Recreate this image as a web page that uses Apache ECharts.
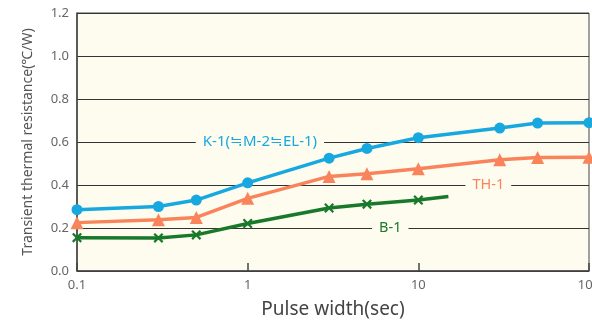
<!DOCTYPE html>
<html><head><meta charset="utf-8">
<script src="https://cdn.jsdelivr.net/npm/echarts@6/dist/echarts.min.js"></script>
<style>html,body{margin:0;padding:0;background:#fff}#c{width:592px;height:322px}</style>
</head><body><div id="c"></div>
<script>
const pulseMain = [0.1, 0.3, 0.5, 1, 3, 5, 10, 30, 50, 100];
const k1 = [0.285, 0.300, 0.330, 0.410, 0.525, 0.570, 0.620, 0.665, 0.688, 0.690];
const th1 = [0.225, 0.238, 0.249, 0.338, 0.440, 0.452, 0.476, 0.517, 0.528, 0.529];
const pulseB = [0.1, 0.3, 0.5, 1, 3, 5, 10, 15];
const b1 = [0.155, 0.154, 0.168, 0.221, 0.293, 0.311, 0.330, 0.347];
const yTicks = [0.0, 0.2, 0.4, 0.6, 0.8, 1.0, 1.2];
const seriesNames = ['K-1(≒M-2≒EL-1)', 'TH-1', 'B-1'];
const labelPos = [[1.18, 0.6], [25.7, 0.4], [6.85, 0.2]];

const cBlue = '#18a8e0', cOrange = '#f9845b', cGreen = '#18792b';
const bg = '#fefcee';
const crossPath = 'path://M0,1.6L1.6,0L5,3.4L8.4,0L10,1.6L6.6,5L10,8.4L8.4,10L5,6.6L1.6,10L0,8.4L3.4,5Z';

function pairs(xs, ys) { return xs.map((x, i) => [x, ys[i]]); }
const bData = pairs(pulseB, b1).map((p, i) => i === pulseB.length - 1 ? {value: p, symbol: 'none'} : p);

function lbl(i, color) {
  return {
    symbol: 'rect', symbolSize: 0, silent: true,
    data: [{coord: labelPos[i]}],
    label: {show: true, position: 'inside', formatter: seriesNames[i], color: color,
      fontSize: i === 0 ? 15 : 14.5, fontFamily: 'Noto Sans, Noto Sans CJK JP, sans-serif', backgroundColor: bg,
      padding: [0, 7, 0, 7]}
  };
}

const chart = echarts.init(document.getElementById('c'));
chart.setOption({
  animation: false,
  grid: {left: 77, right: 3, top: 13, bottom: 51, outerBoundsMode: 'none', containLabel: false,
    show: true, backgroundColor: bg, borderColor: '#444', borderWidth: 1},
  xAxis: {
    type: 'log', logBase: 10, min: 0.1, max: 100,
    name: 'Pulse width(sec)', nameLocation: 'middle', nameGap: 29,
    nameTextStyle: {fontSize: 19, color: '#444', fontFamily: 'Noto Sans, sans-serif'},
    axisLine: {lineStyle: {color: '#444', width: 1.5}},
    axisTick: {inside: true, length: 8, lineStyle: {color: '#444', width: 1.5}},
    axisLabel: {color: '#666', fontSize: 13, margin: 8, fontFamily: 'Noto Sans, sans-serif'},
    splitLine: {show: false}, minorTick: {show: false}
  },
  yAxis: {
    type: 'value', min: 0, max: 1.2, interval: 0.2,
    name: 'Transient thermal resistance(℃/W)', nameLocation: 'middle', nameGap: 42,
    nameTextStyle: {fontSize: 14, color: '#555', fontFamily: 'Noto Sans, sans-serif'},
    axisLine: {show: true, lineStyle: {color: '#444', width: 1.5}},
    axisTick: {show: false},
    axisLabel: {color: '#666', fontSize: 13, margin: 8, fontFamily: 'Noto Sans, sans-serif',
      formatter: v => yTicks.find(t => Math.abs(t - v) < 1e-9).toFixed(1)},
    splitLine: {lineStyle: {color: '#333', width: 1}}
  },
  series: [
    {name: seriesNames[0], type: 'line', data: pairs(pulseMain, k1), symbol: 'circle', symbolSize: 11,
     lineStyle: {color: cBlue, width: 3.5}, itemStyle: {color: cBlue}, markPoint: lbl(0, cBlue), z: 4},
    {name: seriesNames[1], type: 'line', data: pairs(pulseMain, th1), symbol: 'triangle', symbolSize: 13,
     lineStyle: {color: cOrange, width: 3.5}, itemStyle: {color: cOrange}, markPoint: lbl(1, cOrange), z: 3},
    {name: seriesNames[2], type: 'line', data: bData, symbol: crossPath, symbolSize: 10,
     lineStyle: {color: cGreen, width: 3.5}, itemStyle: {color: cGreen}, markPoint: lbl(2, cGreen), z: 2}
  ]
});
</script></body></html>
